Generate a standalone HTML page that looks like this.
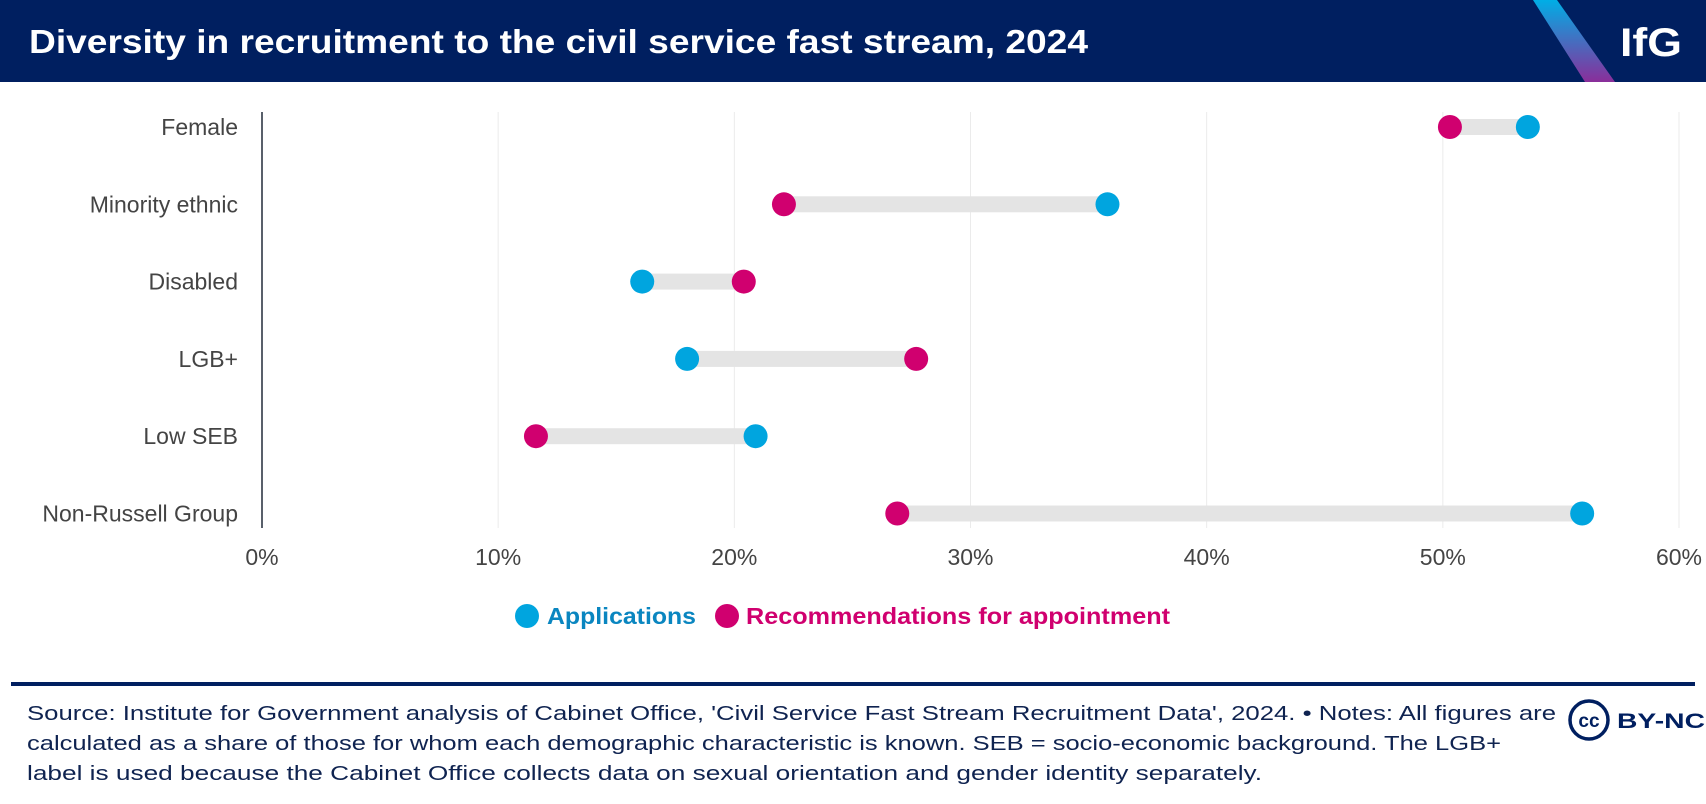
<!DOCTYPE html>
<html><head><meta charset="utf-8"><style>
html,body{margin:0;padding:0;background:#fff;}
svg{display:block;font-family:"Liberation Sans",sans-serif;}
</style></head><body>
<svg id="chart" width="1706" height="804" viewBox="0 0 1706 804">
<defs><linearGradient id="stripe" x1="0" y1="0" x2="0" y2="1"><stop offset="0" stop-color="#00aee6"/><stop offset="1" stop-color="#8a2e9a"/></linearGradient></defs>
<rect x="0" y="0" width="1706" height="82" fill="#001f60"/>
<text x="29" y="53" font-size="33" font-weight="bold" fill="#fff" textLength="1059" lengthAdjust="spacingAndGlyphs">Diversity in recruitment to the civil service fast stream, 2024</text>
<polygon points="1533,0 1557,0 1615,82 1585,82" fill="url(#stripe)"/>
<text x="1620" y="56" font-size="40" font-weight="bold" fill="#fff" textLength="62" lengthAdjust="spacingAndGlyphs">IfG</text>
<g id="grid"></g>
<g id="rows"></g>
<line x1="262" y1="112" x2="262" y2="528" stroke="#222b3a" stroke-width="1.5"/>
<g id="ticks"></g>
<g>
<circle cx="527" cy="616" r="12" fill="#00a5df"/>
<text x="547" y="624" font-size="23" font-weight="bold" fill="#0a86c0" textLength="149" lengthAdjust="spacingAndGlyphs">Applications</text>
<circle cx="727" cy="616" r="12" fill="#d0006f"/>
<text x="746" y="624" font-size="23" font-weight="bold" fill="#d0006f" textLength="424" lengthAdjust="spacingAndGlyphs">Recommendations for appointment</text>
</g>
<rect x="11" y="682" width="1684" height="4" fill="#001f60"/>
<g font-size="20" fill="#0f2350">
<text x="27" y="720" textLength="1529" lengthAdjust="spacingAndGlyphs">Source: Institute for Government analysis of Cabinet Office, 'Civil Service Fast Stream Recruitment Data', 2024. • Notes: All figures are</text>
<text x="27" y="750" textLength="1474" lengthAdjust="spacingAndGlyphs">calculated as a share of those for whom each demographic characteristic is known. SEB = socio-economic background. The LGB+</text>
<text x="27" y="780" textLength="1235" lengthAdjust="spacingAndGlyphs">label is used because the Cabinet Office collects data on sexual orientation and gender identity separately.</text>
</g>
<g>
<circle cx="1589" cy="720" r="19" fill="none" stroke="#001f60" stroke-width="3.5"/>
<text x="1589" y="727" font-size="19" font-weight="bold" fill="#001f60" text-anchor="middle">cc</text>
<text x="1617" y="728" font-size="21" font-weight="bold" fill="#001f60" textLength="88" lengthAdjust="spacingAndGlyphs">BY-NC</text>
</g>
</svg>
<script>
const categories=["Female","Minority ethnic","Disabled","LGB+","Low SEB","Non-Russell Group"];
const applications=[53.6,35.8,16.1,18.0,20.9,55.9];
const recommendations=[50.3,22.1,20.4,27.7,11.6,26.9];
const tickValues=[0,10,20,30,40,50,60];
const tickLabels=["0%","10%","20%","30%","40%","50%","60%"];
const NS="http://www.w3.org/2000/svg";
const x=v=>262+(v/60)*(1679-262);
const y=i=>127+i*77.3;
function mk(tag,attrs,parent){const e=document.createElementNS(NS,tag);for(const k in attrs)e.setAttribute(k,attrs[k]);parent.appendChild(e);return e;}
const grid=document.getElementById('grid'),rows=document.getElementById('rows'),ticks=document.getElementById('ticks');
tickValues.forEach((v,i)=>{
 if(v>0){const g=mk('line',{x1:x(v),x2:x(v),y1:112,y2:528,stroke:'#ebebeb','stroke-width':1},grid);
 
 }
 const t=mk('text',{x:x(v),y:565,'font-size':23,fill:'#444','text-anchor':'middle'},ticks);
 t.textContent=tickLabels[i];
 
 
});
categories.forEach((c,i)=>{
 const cy=y(i);
 const l=mk('text',{x:238,y:cy+8,'font-size':23,fill:'#444','text-anchor':'end'},rows);
 l.textContent=c;
 
 
 const a=x(applications[i]),r=x(recommendations[i]);
 const b=mk('rect',{x:Math.min(a,r),y:cy-8,width:Math.abs(a-r),height:16,fill:'#e4e4e4'},rows);
 
 
 const d1=mk('circle',{cx:r,cy:cy,r:12,fill:'#d0006f'},rows);
 
 
 const d2=mk('circle',{cx:a,cy:cy,r:12,fill:'#00a5df'},rows);
 
 
});
</script>
</body></html>
